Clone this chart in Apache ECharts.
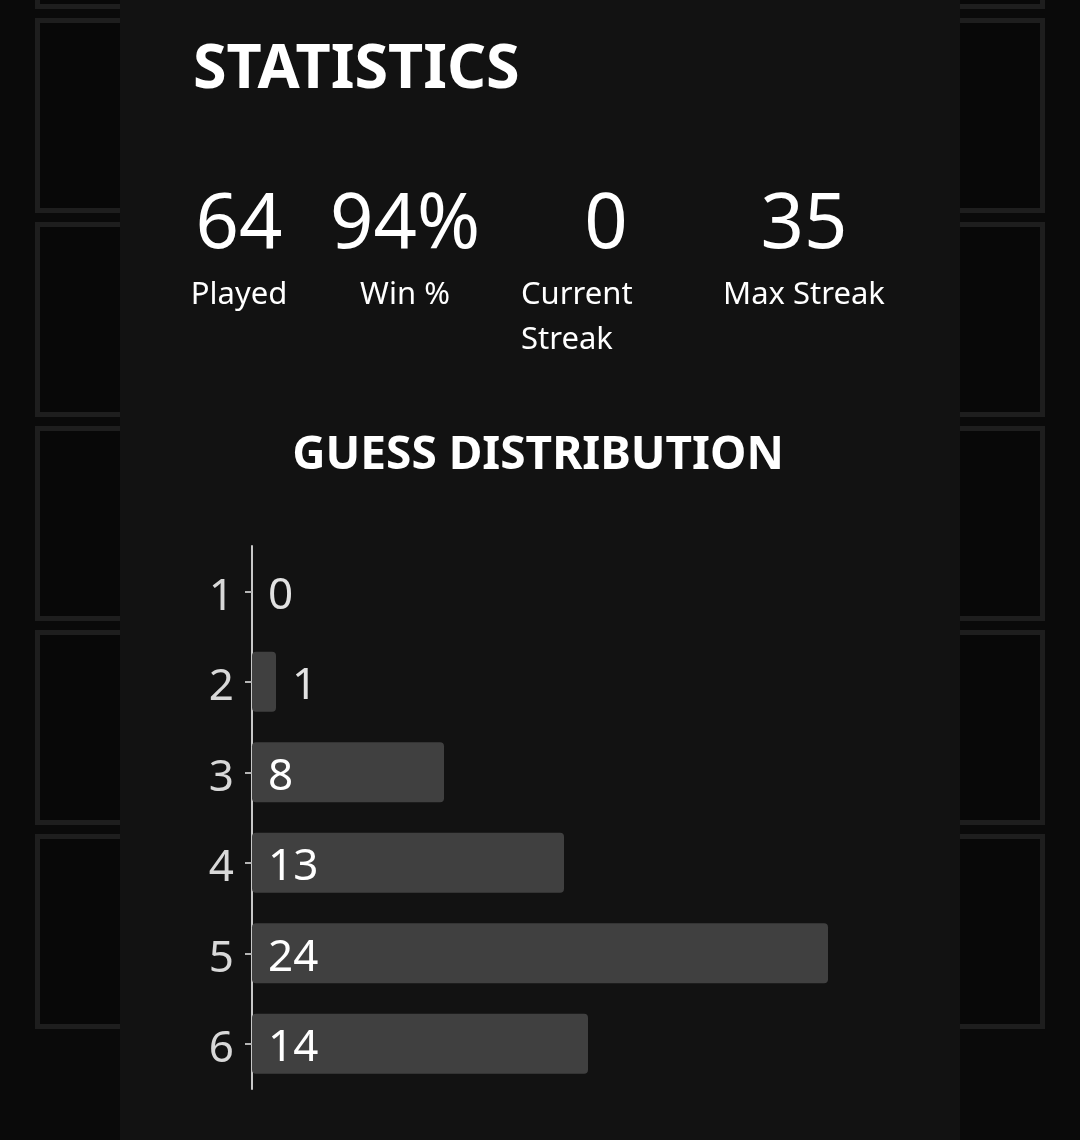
<!DOCTYPE html>
<html>
<head>
<meta charset="utf-8">
<script src="https://cdn.jsdelivr.net/npm/echarts@6/dist/echarts.min.js"></script>
<style>
  html, body { margin: 0; padding: 0; background: #0a0a0a; }
  #chart { width: 1080px; height: 1140px; }
</style>
</head>
<body>
<div id="chart"></div>
<script>
// ---- data ----
const guesses = ['1', '2', '3', '4', '5', '6'];
const guessCounts = [0, 1, 8, 13, 24, 14];
const statValues = ['64', '94%', '0', '35'];
const statLabels = ['Played', 'Win %', 'Current\nStreak', 'Max Streak'];
const titleText = 'STATISTICS';
const distTitle = 'GUESS DISTRIBUTION';

const FONT = '"Noto Sans", "Open Sans", sans-serif';
const chart = echarts.init(document.getElementById('chart'), null, { renderer: 'canvas' });

// background tiles
const tiles = [];
const tileTops = [-186, 18, 222, 426, 630, 834];
tileTops.forEach(function (t) {
  [37.5, 852.5].forEach(function (x) {
    tiles.push({
      type: 'rect', z: -10, silent: true,
      shape: { x: x, y: t + 2.5, width: 190, height: 190 },
      style: { fill: '#080808', stroke: '#1e1e1e', lineWidth: 5 }
    });
  });
});

const statX = [239, 405, 521, 804];
const statAlign = ['center', 'center', 'left', 'center'];
const statValueX = [239, 405, 606, 804];
const texts = [];
texts.push({
  type: 'text', z: 5, x: 193, y: 71,
  style: { text: titleText, font: 'bold 61px ' + FONT, fill: '#ffffff', verticalAlign: 'middle' }
});
statValues.forEach(function (v, i) {
  texts.push({
    type: 'text', z: 5, x: statValueX[i], y: 226,
    style: { text: v, font: '76px ' + FONT, fill: '#ffffff', align: 'center', verticalAlign: 'middle' }
  });
});
statLabels.forEach(function (v, i) {
  texts.push({
    type: 'text', z: 5, x: statX[i], y: 273,
    style: { text: v, font: '31px ' + FONT, fill: '#ffffff', align: statAlign[i], verticalAlign: 'top', lineHeight: 45 }
  });
});
texts.push({
  type: 'text', z: 5, x: 538, y: 456,
  style: { text: distTitle, font: 'bold 46px ' + FONT, fill: '#ffffff', align: 'center', verticalAlign: 'middle' }
});

const barData = guessCounts.map(function (v) {
  const small = v < 2;
  return {
    value: v,
    label: {
      position: small ? 'right' : 'insideLeft',
      distance: 16,
      color: small ? '#e2e2e2' : '#ffffff'
    }
  };
});

chart.setOption({
  backgroundColor: '#0a0a0a',
  animation: false,
  graphic: [].concat(tiles, [{
    type: 'rect', z: -5, silent: true,
    shape: { x: 120, y: 0, width: 840, height: 1140 },
    style: { fill: '#121212' }
  }], texts),
  grid: { left: 252, top: 546, width: 600, height: 543 },
  xAxis: {
    type: 'value', min: 0, max: 25, show: false
  },
  yAxis: {
    type: 'category',
    data: guesses,
    inverse: true,
    axisLine: { show: true, lineStyle: { color: '#c8c8c8', width: 2 } },
    axisTick: { show: true, alignWithLabel: true, length: 7, lineStyle: { color: '#b4b4b4', width: 2 } },
    axisLabel: {
      margin: 18,
      formatter: function (v) { return '{c|' + v + '}'; },
      rich: {
        c: { fontSize: 44, color: '#d8d8d8', fontFamily: FONT, padding: [12, 0, 0, 0] }
      }
    },
    splitLine: { show: false }
  },
  series: [{
    type: 'bar',
    data: barData,
    barWidth: 60,
    itemStyle: { color: '#404040', borderRadius: 4 },
    label: { show: true, fontSize: 44, fontFamily: FONT, color: '#ffffff', offset: [0, 5] }
  }]
});
</script>
</body>
</html>
